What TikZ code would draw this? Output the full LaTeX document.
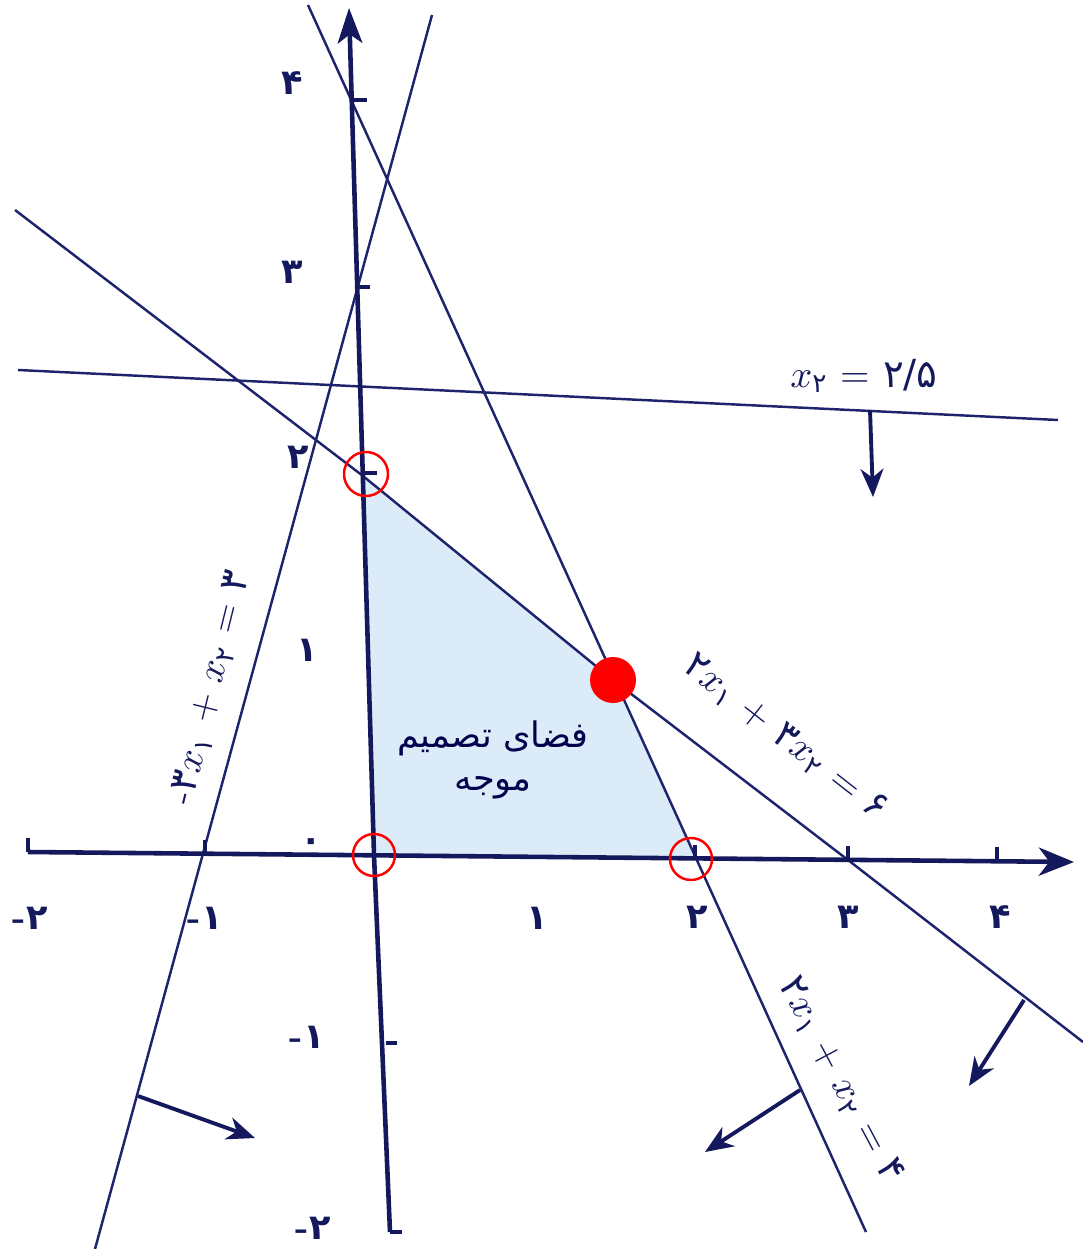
\documentclass[tikz,border=0pt]{standalone}
\usepackage{fontspec}
\newfontfamily\fa[Script=Arabic]{DejaVu Sans}
\usetikzlibrary{arrows.meta}
\TeXXeTstate=1
\definecolor{ink}{RGB}{30,36,108}
\definecolor{axisink}{RGB}{20,24,92}
\definecolor{feas}{RGB}{220,235,248}
\newcommand{\xs}[1]{\ensuremath{x_{\mbox{\fontsize{7.5}{9}\selectfont\fa #1}}}}
\newcommand{\mn}{\textbf{-}}
\begin{document}
\begin{tikzpicture}[x=0.01cm,y=-0.01cm,
  cline/.style={draw=ink,line width=0.7pt},
  axisline/.style={draw=axisink,line width=1.3pt},
  tickmark/.style={draw=axisink,line width=1pt},
  dirarrow/.style={draw=axisink,line width=1.1pt,-{Stealth[length=8pt,width=6.5pt,inset=2.5pt]}},
  ticklabel/.style={text=axisink,font=\fontsize{10}{12}\selectfont\bfseries,inner sep=0pt},
  eqlabel/.style={text=axisink,font=\fontsize{11}{13}\selectfont,inner sep=0pt},
  regionlabel/.style={text=black!70!blue,font=\fontsize{10}{12}\selectfont\fa,inner sep=0pt},
  hollowmark/.style={draw=red,line width=0.7pt},
]
\useasboundingbox (0,0) rectangle (1083,1249);
\begin{scope}
\clip (0,0) rectangle (1083,1249);

% key points
\coordinate (Ytop) at (349,8);
\coordinate (O) at (374,855);
\coordinate (Ybot) at (390,1232);
\coordinate (Xl) at (28,852);
\coordinate (Xr) at (1074,862);
\coordinate (A) at (363,476);
\coordinate (B) at (613,680);
\coordinate (C) at (695,857);

% feasible region
\fill[feas] (A) -- (B) -- (C) -- (O) -- cycle;

% constraint lines
\draw[cline] (15,210) -- (A) -- (B) -- (848,860) -- (1083,1042);
\draw[cline] (308,5) -- (866,1232);
\draw[cline] (432,15) -- (95,1249);
\draw[cline] (18,370) -- (1058,420);

% axes
\draw[axisline,-{Stealth[length=10pt,width=8pt,inset=3pt]}] (Xl) -- (Xr);
\draw[axisline] (Xl) -- (28,838);
\draw[axisline,-{Stealth[length=10pt,width=7pt,inset=2.5pt]}] (Ybot) -- (O) -- (Ytop);
\draw[axisline] (Ybot) -- (402,1232);

% ticks
\draw[tickmark] (205,853) -- (205,840);
\draw[tickmark] (695,857) -- (695,845);
\draw[tickmark] (848,858) -- (848,846);
\draw[tickmark] (997,860) -- (997,847);
\draw[tickmark] (352,100) -- (367,100);
\draw[tickmark] (356,287) -- (370,287);
\draw[tickmark] (363,473) -- (377,473);
\draw[tickmark] (386,1043) -- (397,1043);

% tick labels
\node[ticklabel] (xm2) at (30,918) {\mn{\fa ۲}};
\node[ticklabel] (xm1) at (205,918) {\mn{\fa ۱}};
\node[ticklabel] (x0) at (311,845) {\fa ۰};
\node[ticklabel] (x1) at (537,918) {\fa ۱};
\node[ticklabel] (x2) at (697,917) {\fa ۲};
\node[ticklabel] (x3) at (848,917) {\fa ۳};
\node[ticklabel] (x4) at (1000,917) {\fa ۴};
\node[ticklabel] (y4) at (292,83) {\fa ۴};
\node[ticklabel] (y3) at (292,272) {\fa ۳};
\node[ticklabel] (y2) at (298,457) {\fa ۲};
\node[ticklabel] (y1) at (307,650) {\fa ۱};
\node[ticklabel] (ym1) at (307,1037) {\mn{\fa ۱}};
\node[ticklabel] (ym2) at (313,1228) {\mn{\fa ۲}};

% direction arrows
\coordinate (h1) at (870,410); \coordinate (h2) at (873,497);
\draw[dirarrow] (h1) -- (h2);
\coordinate (p1) at (1024,1000); \coordinate (p2) at (969,1086);
\draw[dirarrow] (p1) -- (p2);
\coordinate (q1) at (800,1090); \coordinate (q2) at (705,1152);
\draw[dirarrow] (q1) -- (q2);
\coordinate (r1) at (138,1096); \coordinate (r2) at (255,1138);
\draw[dirarrow] (r1) -- (r2);

% equation labels
\node[eqlabel] (lh) at (864,376) {\xs{۲} = {\fa ۲/۵}};
\node[eqlabel,rotate=-38] (l1) at (785,738) {{\fa ۲}\xs{۱} + {\fa ۳}\xs{۲} = {\fa ۶}};
\node[eqlabel,rotate=-62] (l2) at (840,1080) {{\fa ۲}\xs{۱} + \xs{۲} = {\fa ۴}};
\node[eqlabel,rotate=76] (l3) at (211,688) {-{\fa ۳}\xs{۱} + \xs{۲} = {\fa ۳}};

% region text
\node[regionlabel] (t1) at (493,738) {\beginR فضای تصمیم\endR};
\node[regionlabel] (t2) at (493,788) {\beginR موجه\endR};

% marked vertices
\draw[hollowmark] (366,474) circle[radius=22];
\draw[hollowmark] (374,855) circle[radius=21];
\draw[hollowmark] (691,859) circle[radius=21];
\fill[red] (B) circle[radius=23];
\end{scope}
\end{tikzpicture}
\end{document}
